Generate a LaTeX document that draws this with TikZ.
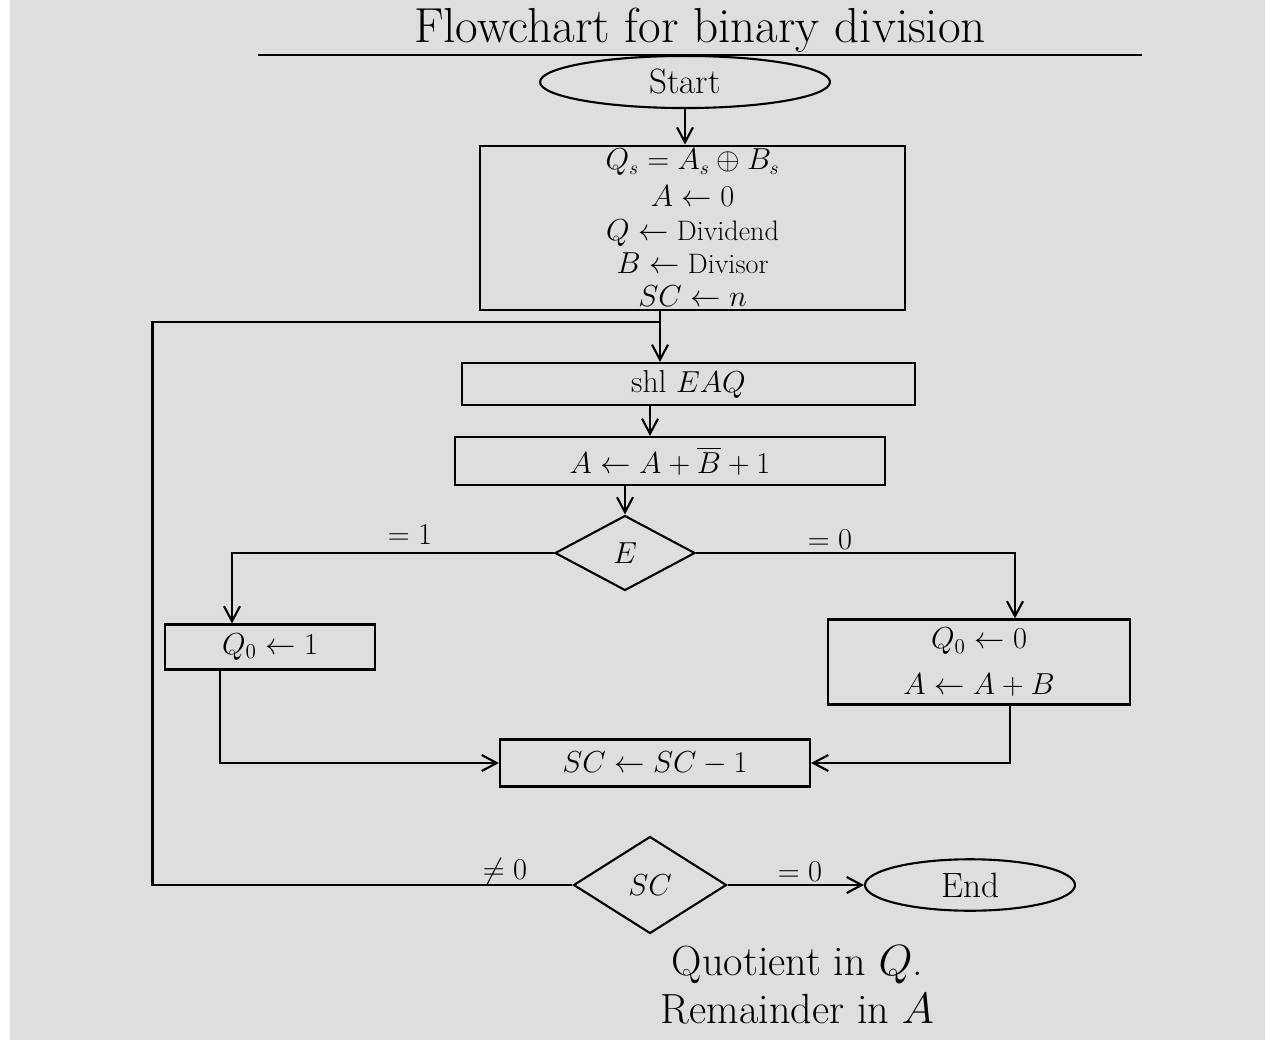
\documentclass[tikz,border=0pt]{standalone}
\usepackage{amsmath}
\usetikzlibrary{arrows.meta,positioning,shapes.geometric}
\definecolor{paper}{RGB}{222,223,221}

\begin{document}
\begin{tikzpicture}[
  line width=1.2pt,
  font=\fontsize{18}{20}\selectfont,
  >={Straight Barb[length=3mm,width=3.2mm]},
  term/.style={draw, ellipse, minimum width=5.8cm, minimum height=0.9cm, font=\fontsize{20}{22}\selectfont},
  box/.style={draw, minimum height=0.9cm, inner sep=2pt},
  test/.style={draw, diamond, inner sep=0pt},
  tag/.style={font=\fontsize{18}{20}\selectfont}
]
% paper and margins
\fill[white] (0,0) rectangle (25.4,-21.02);
\fill[paper] (0.2,0) rectangle (25.3,-20.8);
\useasboundingbox (0,0) rectangle (25.4,-21.02);

\node[font=\fontsize{28}{30}\selectfont, anchor=base, inner sep=0pt] (title) at (14.0,-0.86) {Flowchart for binary division};
\draw ([xshift=-3.1cm,yshift=-7pt]title.base west) -- ([xshift=3.1cm,yshift=-7pt]title.base east);

% boxes
\node[term] (start) at (13.7,-1.64) {Start};
\node[box, minimum width=8.5cm, minimum height=3.2cm, align=center, font=\fontsize{16}{19}\selectfont] (init) at (13.85,-4.56)
  {$Q_s = A_s \oplus B_s$\\[2pt] $A \leftarrow 0$\\ $Q \leftarrow$ Dividend\\ $B \leftarrow$ Divisor\\ $SC \leftarrow n$};
\node[box, minimum width=9.06cm, minimum height=0.84cm] (shl) at (13.77,-7.68) {shl $EAQ$};
\node[box, minimum width=8.6cm, minimum height=0.96cm] (sub) at (13.4,-9.22) {$A \leftarrow A + \overline{B} + 1$};
\node[test, minimum width=2.8cm, minimum height=1.5cm] (e) at (12.5,-11.06) {$E$};
\node[box, minimum width=4.2cm] (qone) at (5.4,-12.94) {$Q_0 \leftarrow 1$};
\node[box, minimum width=6.04cm, minimum height=1.7cm, align=center] (qzero) at (19.58,-13.24)
  {$Q_0 \leftarrow 0$\\[6pt] $A \leftarrow A + B$};
\node[box, minimum width=6.2cm, minimum height=0.94cm] (dec) at (13.1,-15.26) {$SC \leftarrow SC - 1$};
\node[test, minimum width=3.06cm, minimum height=1.94cm] (sc) at (13.0,-17.7) {$SC$};
\node[term, minimum width=4.2cm, minimum height=0.8cm] (end) at (19.4,-17.7) {End};
\node[align=center, font=\fontsize{24}{26}\selectfont] (note) at (15.95,-19.7)
  {Quotient in $Q$.\\[1pt] Remainder in $A$};

% branch labels
\node[tag] (eone) at (8.2,-10.7) {$=1$};
\node[tag] (ezero) at (16.6,-10.8) {$=0$};
\node[tag] (scnz) at (10.1,-17.44) {$\neq 0$};
\node[tag] (scz) at (16.0,-17.44) {$=0$};

% connectors
\coordinate (join) at (13.2,-6.44);
\coordinate (loop) at (3.05,-6.44);
\draw[->] (start.south) -- (start.south |- init.north);
\draw (init.south -| join) -- (join);
\draw[->] (join) -- (join |- shl.north);
\draw[->] ([xshift=-0.77cm]shl.south) -- ([xshift=-0.77cm]shl.south |- sub.north);
\draw[->] (sub.south -| e.north) -- (e.north);
\draw[->] (e.west) -| ([xshift=-0.76cm]qone.north);
\draw[->] (e.east) -| ([xshift=0.72cm]qzero.north);
\draw[->] ([xshift=-1cm]qone.south) |- (dec.west);
\draw[->] ([xshift=0.62cm]qzero.south) |- (dec.east);
\draw[->] (sc.east) -- (end.west);
\draw (sc.west) -| (loop) -- (join);
\end{tikzpicture}
\end{document}
